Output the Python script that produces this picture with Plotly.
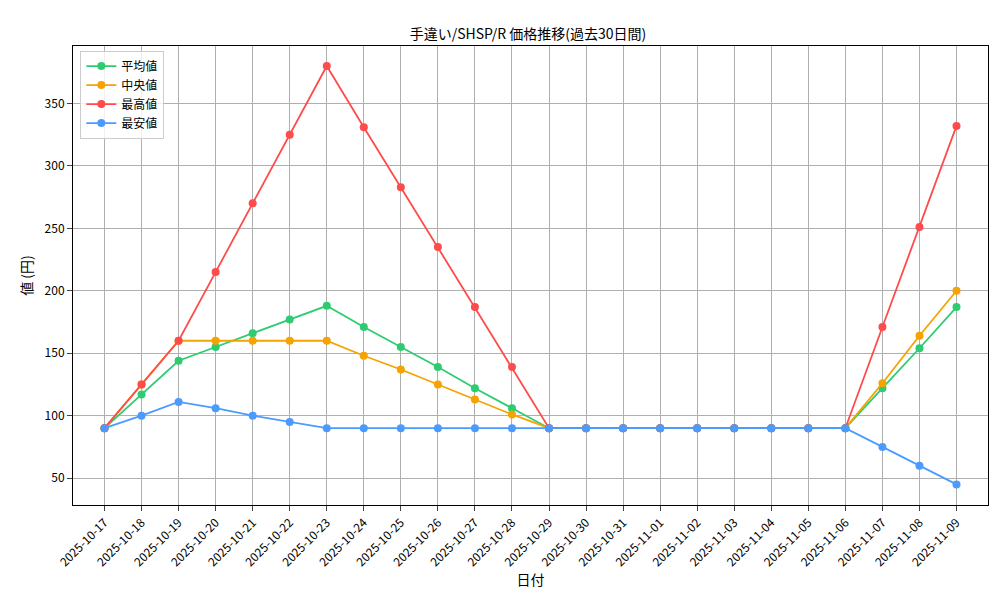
import plotly.graph_objects as go
import pandas as pd

dates = [d.strftime("%Y-%m-%d") for d in pd.date_range("2025-10-17", "2025-11-09")]
mean_v = [90,117,144,155,166,177,188,171,155,139,122,106,90,90,90,90,90,90,90,90,90,122,154,187]
median_v = [90,125,160,160,160,160,160,148,137,125,113,101,90,90,90,90,90,90,90,90,90,126,164,200]
max_v = [90,125,160,215,270,325,380,331,283,235,187,139,90,90,90,90,90,90,90,90,90,171,251,332]
min_v = [90,100,111,106,100,95,90,90,90,90,90,90,90,90,90,90,90,90,90,90,90,75,60,45]

series = [("平均値", mean_v, "#2ecc71"), ("中央値", median_v, "#f5a300"),
          ("最高値", max_v, "#ff4b4b"), ("最安値", min_v, "#4b9bff")]
fig = go.Figure()
for name, vals, col in series:
    fig.add_trace(go.Scatter(x=dates, y=vals, name=name, mode="lines+markers",
                             line=dict(color=col, width=1.8), marker=dict(size=8, color=col)))
font = "Noto Sans CJK JP"
fig.update_layout(
    width=1000, height=600, plot_bgcolor="white", paper_bgcolor="white",
    font=dict(family=font, size=12, color="black"),
    title=dict(text="手違い/SHSP/R 価格推移(過去30日間)", x=0.52, y=0.965, xanchor="center", font=dict(size=14)),
    margin=dict(l=65, r=20, t=38, b=103),
    legend=dict(x=0.008, y=0.99, xanchor="left", yanchor="top", bordercolor="#cccccc", borderwidth=1,
                bgcolor="rgba(255,255,255,0.8)", font=dict(size=12)),
    xaxis=dict(title=dict(text="日付", standoff=5), tickangle=-45, showgrid=True, gridcolor="#b0b0b0",
               showline=True, linecolor="black", mirror=True, ticks="outside", type="category",
               range=[-0.85, 23.85], automargin=False),
    yaxis=dict(title=dict(text="値 (円)", standoff=8), showgrid=True, gridcolor="#b0b0b0", range=[28.5, 396],
               tickvals=[50,100,150,200,250,300,350], showline=True, linecolor="black", mirror=True,
               ticks="outside", zeroline=False, automargin=False),
)
fig.write_html("out.html")
